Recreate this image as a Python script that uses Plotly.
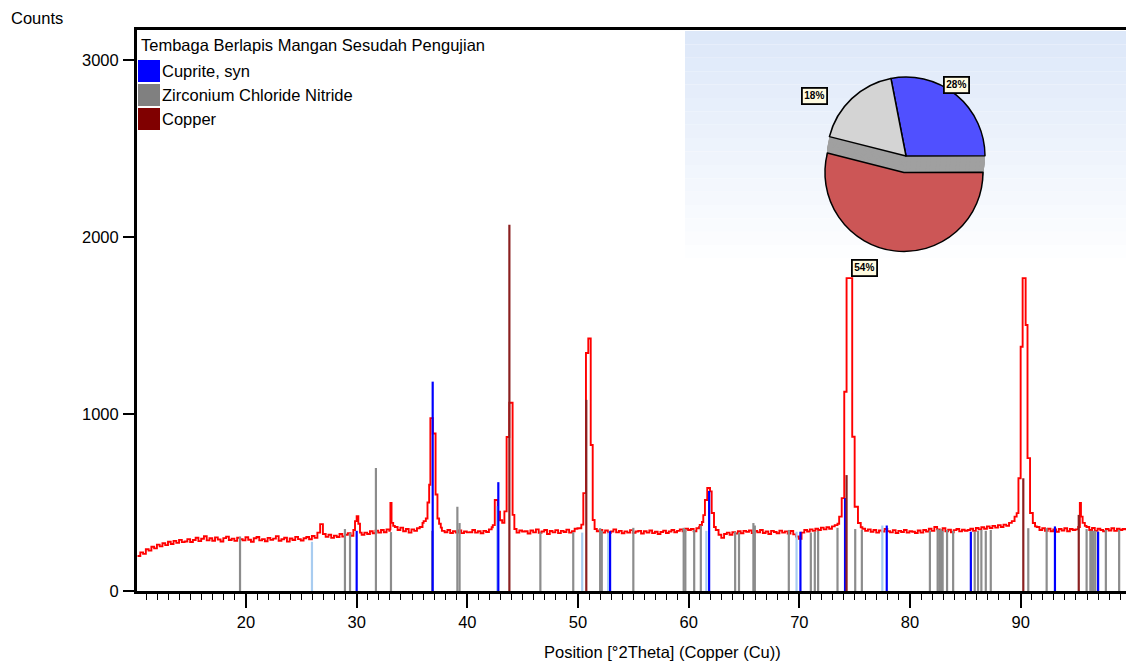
import math
import plotly.graph_objects as go

# ---------------- data ----------------
# measured pattern: background sampled every 0.25 deg starting at 10.2 deg
bg_start = 10.2
bg_step = 0.25
bg_counts = [
    198, 218, 210, 236, 228, 250, 241, 262, 252, 270, 259, 278, 266, 283, 272, 289, 276, 280, 293, 277,
    288, 301, 282, 295, 309, 286, 298, 284, 303, 291, 280, 299, 307, 288, 296, 283, 301, 292, 286, 304,
    290, 278, 298, 305, 286, 293, 281, 300, 289, 296, 310, 284, 292, 301, 279, 297, 288, 306, 293, 285,
    298, 305, 292, 311, 300, 330, 378, 322, 306, 318, 300, 313, 305, 322, 308, 318, 326, 312, 340, 410,
    340, 318, 330, 322, 338, 326, 341, 330, 345, 332, 348, 340, 370, 362, 345, 358, 338, 350, 330, 348,
    340, 355, 362, 385, 410, 500, 900, 890, 400, 352, 340, 332, 345, 328, 338, 330, 342, 327, 336, 331,
    332, 345, 330, 338, 326, 340, 333, 348, 360, 410, 450, 400, 450, 1000, 900, 350, 345, 330, 342, 336,
    338, 325, 342, 331, 348, 329, 336, 345, 322, 339, 331, 344, 327, 340, 333, 347, 330, 338, 352, 355,
    375, 553, 1345, 1427, 825, 350, 338, 345, 330, 342, 328, 336, 348, 331, 340, 326, 337, 330, 344, 329,
    336, 340, 325, 338, 330, 342, 327, 335, 322, 333, 341, 328, 336, 345, 332, 340, 348, 337, 352, 345,
    350, 338, 355, 362, 373, 429, 582, 441, 345, 330, 318, 300, 322, 330, 318, 332, 325, 338, 326, 340,
    334, 342, 327, 339, 331, 345, 328, 336, 322, 340, 333, 326, 341, 330, 337, 325, 339, 320, 308, 295,
    330, 345, 336, 348, 340, 352, 345, 358, 348, 360, 352, 365, 372, 380, 420, 1126, 1768, 1768, 872, 476,
    384, 360, 352, 340, 348, 335, 345, 330, 342, 336, 350, 338, 331, 344, 328, 340, 333, 345, 330, 338,
    335, 328, 342, 330, 345, 336, 352, 340, 362, 348, 341, 355, 338, 346, 332, 344, 350, 337, 346, 340,
    345, 352, 340, 356, 348, 360, 352, 365, 356, 368, 358, 372, 362, 375, 368, 385, 395, 420, 637, 1380,
    1768, 1503, 441, 384, 350, 362, 345, 355, 340, 352, 338, 348, 335, 350, 342, 355, 338, 350, 345, 348,
    360, 497, 380, 362, 345, 356, 340, 352, 345, 338, 350, 342, 355, 340, 352, 345, 350, 343,
]

# finer readings across the diffraction peaks
peak_theta = [
    29.7, 29.85, 30.0, 30.15, 30.3,
    33.0, 33.05, 33.15, 33.3,
    36.05, 36.25, 36.4, 36.55, 36.66, 36.88, 37.13, 37.3, 37.45, 37.6,
    42.3, 42.48, 42.75, 42.95, 43.15, 43.35, 43.55, 43.79, 44.09, 44.25,
    50.1, 50.3, 50.48, 50.72, 50.93, 51.15, 51.33, 51.5,
    61.0, 61.2, 61.32, 61.47, 61.68, 61.93, 62.08, 62.29, 62.45,
    73.3, 73.45, 73.6, 73.83, 74.06, 74.27, 74.78, 75.0, 75.3, 75.55,
    89.2, 89.45, 89.64, 89.8, 90.0, 90.18, 90.45, 90.62, 90.85, 91.1, 91.3,
    95.2, 95.35, 95.45, 95.6, 95.8,
]
peak_counts = [
    345, 395, 423, 380, 330,
    348, 497, 385, 368,
    395, 410, 500, 600, 977, 890, 545, 410, 380, 358,
    372, 514, 448, 400, 385, 450, 870, 1064, 430, 350,
    355, 375, 553, 1345, 1427, 825, 401, 350,
    373, 390, 429, 514, 582, 563, 441, 362, 345,
    372, 380, 420, 525, 1126, 1768, 872, 476, 384, 360,
    395, 420, 440, 637, 1380, 1768, 1503, 751, 441, 384, 365,
    362, 497, 420, 385, 368,
]

# reference patterns (stick positions in deg 2theta and heights in counts)
cuprite_pos = [30.0, 36.87, 42.8, 52.9, 61.85, 70.1, 74.13, 77.9, 85.5, 93.1, 97.0]
cuprite_h = [340, 1183, 615, 338, 565, 335, 525, 370, 335, 365, 335]
cuprite_minor_pos = [25.96, 42.7, 50.38, 52.73, 61.6, 69.75, 77.5]
cuprite_minor_h = [278, 480, 330, 330, 340, 335, 370]
zrcln_pos = [19.46, 28.94, 29.4, 31.74, 33.1, 36.83, 39.1, 39.3, 46.6, 49.57, 52.0, 52.15,
             55.0, 59.55, 59.7, 60.5, 61.1, 64.2, 64.55, 65.85, 65.98, 69.05, 71.04, 71.4,
             71.7, 73.45, 75.05, 75.65, 81.8, 82.5, 82.65, 82.8, 82.95, 83.35, 83.9, 85.85,
             86.15, 86.45, 86.85, 87.3, 90.69, 92.35, 95.96, 96.3, 96.45, 96.6, 96.75, 97.7, 98.9]
zrcln_h = [307, 350, 327, 695, 333, 340, 476, 384, 332, 332, 355, 340,
           357, 357, 350, 345, 370, 335, 330, 384, 370, 345, 330, 335,
           340, 357, 350, 345, 340, 350, 345, 350, 340, 345, 340, 335,
           340, 345, 340, 345, 355, 355, 350, 340, 340, 340, 340, 345, 345]
copper_pos = [43.8, 50.75, 74.27, 90.24, 95.25]
copper_h = [2070, 1080, 655, 637, 430]

phase_names = ["Cuprite, syn", "Zirconium Chloride Nitride", "Copper"]
phase_colors = ["#0000ff", "#808080", "#800000"]
phase_percent = [28, 18, 54]          # semi-quantitative score (%)
pie_colors = ["#5050ff", "#d4d4d4", "#cc5656"]

sample_name = "Tembaga Berlapis Mangan Sesudah Pengujian"
x_ticks = [20, 30, 40, 50, 60, 70, 80, 90]
y_ticks = [0, 1000, 2000, 3000]
x_title = "Position [°2Theta] (Copper (Cu))"
y_title = "Counts"

# ---------------- build measured pattern ----------------
bg_theta = [round(bg_start + i * bg_step, 3) for i in range(len(bg_counts))]
clusters = []
s = 0
for i in range(1, len(peak_theta) + 1):
    if i == len(peak_theta) or peak_theta[i] - peak_theta[i - 1] > 1.0:
        clusters.append((peak_theta[s], peak_theta[i - 1]))
        s = i
pts = [(t, c) for t, c in zip(bg_theta, bg_counts)
       if not any(lo - 0.01 <= t <= hi + 0.01 for lo, hi in clusters)]
pts += list(zip(peak_theta, peak_counts))
pts.sort()
meas_x = [p[0] for p in pts]
meas_y = [p[1] for p in pts]


def sticks(pos, h):
    xs, ys = [], []
    for p, v in zip(pos, h):
        xs += [p, p, None]
        ys += [0, v, None]
    return xs, ys


# ---------------- figure geometry ----------------
OFF = 0                      # body margin removed by post_script
W, H = 1126, 664
ML, MT = 137, 30
PW, PH = 989, 561
MR = W - ML - PW
MB = H - MT - PH


def px(x):                   # screen x -> paper
    return (x - OFF - ML) / PW


def py(y):                   # screen y -> paper
    return (OFF + MT + PH - y) / PH


FONT = "Liberation Sans"
FS = 16.5
fig = go.Figure()

fig.add_trace(go.Scatter(x=meas_x, y=meas_y, mode="lines", line=dict(color="#ff0000", width=1.9, shape="hv"),
                         showlegend=False, hoverinfo="skip"))

for pos, h, col in [(zrcln_pos, zrcln_h, "#8c8c8c"),
                    (cuprite_minor_pos, cuprite_minor_h, "#a8ccf0"),
                    (cuprite_pos, cuprite_h, "#0000ff"),
                    (copper_pos, copper_h, "#8b2020")]:
    xs, ys = sticks(pos, h)
    fig.add_trace(go.Scatter(x=xs, y=ys, mode="lines", line=dict(color=col, width=2.2),
                             showlegend=False, hoverinfo="skip"))

shapes = []
# gradient panel behind the pie
top_c = (221, 232, 249)
y_top, y_bot = 31, 272
nb = 18
for k in range(nb):
    f = k / (nb - 1)
    c = tuple(int(round(top_c[j] + (255 - top_c[j]) * f)) for j in range(3))
    y0 = y_top + (y_bot - y_top) * k / nb
    y1 = y_top + (y_bot - y_top) * (k + 1) / nb
    shapes.append(dict(type="rect", xref="paper", yref="paper", x0=px(685), x1=1.0,
                       y0=py(y1), y1=py(y0), fillcolor="rgb(%d,%d,%d)" % c, line=dict(width=0),
                       layer="below"))

# pie (slice order clockwise: blue, red, gray)
pie_vals = [phase_percent[0], phase_percent[2], phase_percent[1]]
pie_cols = [pie_colors[0], pie_colors[2], pie_colors[1]]
pull_red = 0.21
r_px = 79
cx, cy = 906, 156
dom = 2 * r_px * (1 + pull_red)
rot = -11
domain = dict(x=[px(cx - dom / 2), px(cx + dom / 2)], y=[py(cy + dom / 2), py(cy - dom / 2)])
clear = "rgba(0,0,0,0)"
# grey "thickness" band of the exploded slice: stack of grey copies pulled progressively
nsteps = 12
for k in range(nsteps):
    t = pull_red * k / nsteps
    fig.add_trace(go.Pie(values=pie_vals, marker=dict(colors=[clear, "#a0a0a0", clear], line=dict(width=0)),
                         sort=False, direction="clockwise", rotation=rot, pull=[pull_red, t, 0],
                         textinfo="none", hoverinfo="skip", showlegend=False, domain=domain))
fig.add_trace(go.Pie(values=pie_vals, marker=dict(colors=pie_cols, line=dict(color="black", width=1.5)),
                     sort=False, direction="clockwise", rotation=rot, pull=[0, pull_red, 0],
                     textinfo="none", hoverinfo="skip", showlegend=False, domain=domain))

annotations = []
# pie labels
label_pos = [(970, 76), (828, 87), (878, 268)]
for v, (lx, ly) in zip(phase_percent, label_pos):
    annotations.append(dict(x=px(lx), y=py(ly), xref="paper", yref="paper", showarrow=False,
                            text="<b>%d%%</b>" % v, font=dict(family=FONT, size=10, color="black"),
                            bgcolor="#fffbe0", bordercolor="black", borderwidth=1.8, borderpad=1.5))

# legend (manual)
annotations.append(dict(x=px(139), y=py(45), xref="paper", yref="paper", xanchor="left", yanchor="middle",
                        showarrow=False, text=sample_name, font=dict(family=FONT, size=FS, color="black")))
for i, (nm, col) in enumerate(zip(phase_names, phase_colors)):
    top = 60 + 24 * i
    shapes.append(dict(type="rect", xref="paper", yref="paper", x0=px(138), x1=px(160),
                       y0=py(top + 22), y1=py(top), fillcolor=col, line=dict(width=0), layer="above"))
    annotations.append(dict(x=px(160), y=py(top + 11), xref="paper", yref="paper", xanchor="left",
                            yanchor="middle", showarrow=False, text=nm,
                            font=dict(family=FONT, size=FS, color="black")))

annotations.append(dict(x=px(9), y=py(18), xref="paper", yref="paper", xanchor="left", yanchor="middle",
                        showarrow=False, text=y_title, font=dict(family=FONT, size=FS, color="black")))
annotations.append(dict(x=px(662), y=py(652), xref="paper", yref="paper", xanchor="center", yanchor="middle",
                        showarrow=False, text=x_title, font=dict(family=FONT, size=FS, color="black")))

fig.update_layout(
    width=W, height=H, autosize=False,
    margin=dict(l=ML, r=MR, t=MT, b=MB, pad=0),
    paper_bgcolor="white", plot_bgcolor="rgba(0,0,0,0)",
    showlegend=False, shapes=shapes, annotations=annotations,
    font=dict(family=FONT, size=FS, color="black"),
    xaxis=dict(range=[10.15, 99.52], tickvals=x_ticks, ticks="outside", ticklen=14, tickwidth=1.5,
               tickcolor="black", showline=True, linewidth=2.5, linecolor="black", mirror=True,
               showgrid=False, zeroline=False, tickfont=dict(family=FONT, size=FS, color="black"),
               ticklabelstandoff=0,
               minor=dict(tickvals=[v for v in range(11, 100) if v % 10], ticks="outside", ticklen=6,
                          tickwidth=1.3, tickcolor="black", showgrid=False)),
    yaxis=dict(range=[0, 3170], tickvals=y_ticks, ticks="outside", ticklen=11, tickwidth=2,
               tickcolor="black", showline=True, linewidth=3, linecolor="black",
               showgrid=False, zeroline=False, tickfont=dict(family=FONT, size=FS, color="black"),
               ticklabelstandoff=1),
)

fig.write_html("out.html", config={"displayModeBar": False},
               post_script="document.body.style.margin='0';document.body.style.overflow='hidden';")
